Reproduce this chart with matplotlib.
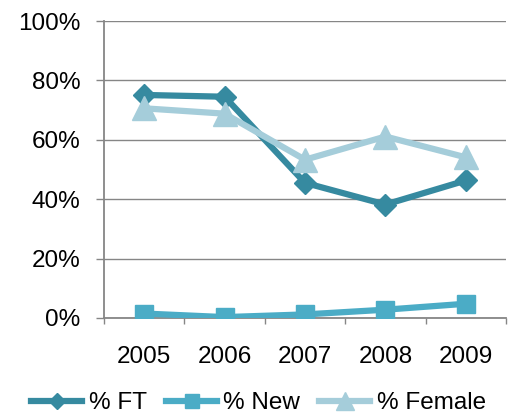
import matplotlib
matplotlib.use("Agg")
import matplotlib.pyplot as plt
from matplotlib.ticker import FixedLocator, PercentFormatter

years = ["2005", "2006", "2007", "2008", "2009"]
pct_ft = [75.1, 74.5, 45.5, 38.2, 46.3]
pct_new = [1.5, 0.3, 1.2, 2.8, 4.8]
pct_female = [70.6, 68.8, 53.3, 61.1, 54.1]
series_names = ["% FT", "% New", "% Female"]

plt.rcParams['font.family'] = ['Liberation Sans', 'DejaVu Sans']
plt.rcParams['font.size'] = 17.5

fig = plt.figure(figsize=(5.14, 4.16), dpi=100)
ax = fig.add_axes([104/514, 1-318/416, (506-104)/514, (318-21)/416])

x = list(range(len(years)))
c_ft = "#368AA0"
c_new = "#4BACC6"
c_fem = "#A5CDDA"

ax.plot(x, pct_new, color=c_new, lw=4.5, marker='s', ms=13.5, zorder=3, label=series_names[1])
ax.plot(x, pct_ft, color=c_ft, lw=4.5, marker='D', ms=11.5, zorder=4, label=series_names[0])
ax.plot(x, pct_female, color=c_fem, lw=4.5, marker='^', ms=17, zorder=5, label=series_names[2])

ax.set_xlim(-0.5, len(years) - 0.5)
ax.set_ylim(0, 100)
ax.set_yticks([0, 20, 40, 60, 80, 100])
ax.yaxis.set_major_formatter(PercentFormatter(decimals=0))
ax.set_xticks(x)
ax.set_xticklabels(years)
ax.xaxis.set_minor_locator(FixedLocator([i - 0.5 for i in range(len(years) + 1)]))

grey = "#868686"
ax.grid(axis='y', color=grey, lw=1.0, zorder=0)
ax.set_axisbelow(True)
for s in ['top', 'right']:
    ax.spines[s].set_visible(False)
for s in ['left', 'bottom']:
    ax.spines[s].set_color(grey)
    ax.spines[s].set_linewidth(1.3)

ax.tick_params(axis='y', which='major', length=5.5, width=1.0, color=grey, pad=11.5, direction='out')
ax.tick_params(axis='x', which='major', length=0, pad=20)
ax.tick_params(axis='x', which='minor', length=4.5, width=1.0, color=grey, direction='out')

handles, labels = ax.get_legend_handles_labels()
order = [labels.index(n) for n in series_names]
leg = fig.legend([handles[i] for i in order], [labels[i] for i in order],
                 loc='center', bbox_to_anchor=(0.503, 0.031), bbox_transform=fig.transFigure,
                 ncol=3, frameon=False, handlelength=2.1, handletextpad=0.25,
                 columnspacing=0.8, borderaxespad=0, borderpad=0, markerscale=0.75)

fig.savefig("out.png", dpi=100)
